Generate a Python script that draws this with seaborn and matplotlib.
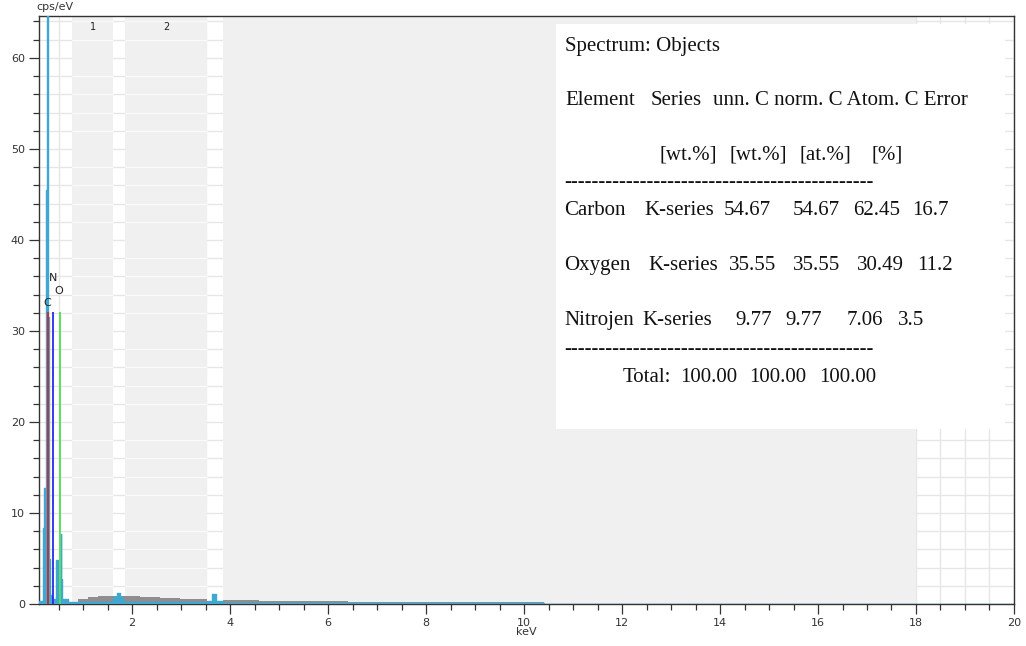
import matplotlib
matplotlib.use("Agg")
import matplotlib.pyplot as plt
import numpy as np
import seaborn as sns
from matplotlib.patches import Rectangle
from matplotlib.ticker import MultipleLocator

# ---- measured spectrum (step edges in keV, counts in cps/eV) ----
spec_kev = [0.10, 0.175, 0.19, 0.205, 0.240, 0.255, 0.292, 0.310, 0.33, 0.36,
            0.44, 0.455, 0.48, 0.52, 0.545, 0.56, 0.58, 0.64, 0.70, 1.62,
            1.70, 1.76, 1.82, 3.55, 3.64, 3.72, 3.85, 10.4, 20.0]
spec_cps = [0.3, 2.0, 8.3, 12.7, 45.5, 80.0, 31.5, 5.0, 1.0, 0.5,
            1.2, 4.8, 1.1, 3.0, 7.7, 2.7, 0.6, 0.6, 0.2, 0.8,
            1.2, 0.8, 0.2, 0.3, 1.1, 0.3, 0.1, 0.0, 0.0]

# ---- fitted background continuum ----
bg_kev = [0.10, 0.70, 0.90, 1.10, 1.30, 2.16, 2.57, 2.98, 3.52, 3.86, 4.6, 6.4, 10.4, 20.0]
bg_cps = [0.10, 0.25, 0.55, 0.75, 0.92, 0.82, 0.65, 0.50, 0.36, 0.42, 0.33, 0.22, 0.0, 0.0]

# ---- identified elements ----
element_names = ["C", "N", "O"]
element_kev = [0.277, 0.392, 0.525]
element_colors = ["#dd2222", "#2a2ae6", "#4ee04e"]
element_marker_height = 32.1
element_label_y = [33.1, 35.8, 34.4]

# ---- integration windows ----
window_names = ["1", "2", ""]
window_start = [0.78, 1.86, 3.86]
window_end = [1.61, 3.53, 18.0]

# ---- quantification table ----
table_units = ["[wt.%]", "[wt.%]", "[at.%]", "[%]"]
row_element = ["Carbon", "Oxygen", "Nitrojen"]
row_series = ["K-series", "K-series", "K-series"]
row_unn = ["54.67", "35.55", "9.77"]
row_norm = ["54.67", "35.55", "9.77"]
row_atom = ["62.45", "30.49", "7.06"]
row_error = ["16.7", "11.2", "3.5"]
total_values = ["100.00", "100.00", "100.00"]

sns.set_theme(style="white")
plt.rcParams["font.family"] = ["DejaVu Sans"]

fig = plt.figure(figsize=(10.26, 6.46), dpi=100)
ax = fig.add_axes([0.0377, 0.065, 0.9506, 0.9102])
ax.set_xlim(0.095, 20.0)
ax.set_ylim(0, 64.6)
ax.set_facecolor("white")

ax.xaxis.set_major_locator(MultipleLocator(2))
ax.xaxis.set_minor_locator(MultipleLocator(0.5))
ax.yaxis.set_major_locator(MultipleLocator(10))
ax.yaxis.set_minor_locator(MultipleLocator(2))

ax.set_axisbelow(True)
ax.grid(which="both", color="#e6e6e6", lw=1.0)

# shaded windows (drawn above the grid)
for name, a, b in zip(window_names, window_start, window_end):
    ax.axvspan(a, b, color="#f0f0f0", lw=0, zorder=0.7)
    if name:
        ax.hlines(ax.yaxis.get_minorticklocs(), a, b, color="#fafafa", lw=1.0, zorder=0.8)
        ax.text((a + b) / 2, 0.982, name, transform=ax.get_xaxis_transform(),
                ha="center", va="center", fontsize=7, color="#222222")

# background continuum
ax.fill_between(bg_kev, 0, bg_cps, step="post", color="#8e8e8e", lw=0, zorder=2)

# spectrum
cyan = "#3fa7d2"
ax.fill_between(spec_kev, 0, spec_cps, step="post", color=cyan, lw=0, zorder=3)
sns.lineplot(x=spec_kev, y=spec_cps, drawstyle="steps-post", color=cyan, lw=1.0,
             ax=ax, zorder=3.1)

# element markers
for name, e, c, ly in zip(element_names, element_kev, element_colors, element_label_y):
    ax.vlines(e, 0, element_marker_height, color=c, lw=1.3, zorder=4)
    ax.text(e - 0.012, ly, name, ha="center", va="center", fontsize=8, color="#222222", zorder=5)

# axes styling
for s in ax.spines.values():
    s.set_color("#333333")
    s.set_linewidth(1.0)
ax.tick_params(which="major", direction="out", length=7, width=0.9, color="#333333",
               labelsize=8, labelcolor="#333333", pad=3, bottom=True, left=True)
ax.tick_params(which="minor", direction="out", length=4.3, width=0.9, color="#333333",
               bottom=True, left=True)
ax.set_xticks([2, 4, 6, 8, 10, 12, 14, 16, 18, 20])
ax.set_xlabel("")
ax.set_ylabel("")
ax.text(0.0167, 1.0150, "cps/eV", transform=ax.transAxes, ha="center", va="center",
        fontsize=8, color="#333333")
ax.text(0.5, -0.048, "keV", transform=ax.transAxes, ha="center", va="center",
        fontsize=8, color="#333333")

# quantification table box
ax.add_patch(Rectangle((0.530, 0.298), 0.461, 0.688, transform=ax.transAxes,
                       facecolor="white", edgecolor="none", zorder=6))

serif = dict(family="Liberation Serif", fontsize=15, color="#111111", va="center",
             ha="left", zorder=7)

def px(x):
    return (x - 38.7) / 975.3

def py(y):
    return (604 - y) / 588

tt = ax.transAxes
ax.text(px(565), py(46), "Spectrum: Objects", transform=tt, **serif)
ax.text(px(565), py(100), "Element", transform=tt, **serif)
ax.text(px(651), py(100), "Series", transform=tt, **serif)
ax.text(px(713), py(100), "unn. C norm. C Atom. C Error", transform=tt, **serif)
for u, x in zip(table_units, [660, 730, 800, 872]):
    ax.text(px(x), py(155), u, transform=tt, **serif)
dash = "-" * 45
ax.text(px(564), py(182), dash, transform=tt, **serif)
row_y = [210, 265, 320]
col_x = [[564, 644, 724, 793, 853, 912],
         [564, 648, 729, 793, 857, 917],
         [564, 642, 735, 785, 847, 898]]
for i in range(3):
    vals = [row_element[i], row_series[i], row_unn[i], row_norm[i], row_atom[i], row_error[i]]
    for v, x in zip(vals, col_x[i]):
        ax.text(px(x), py(row_y[i]), v, transform=tt, **serif)
ax.text(px(564), py(349), dash, transform=tt, **serif)
ax.text(px(623), py(377), "Total:", transform=tt, **serif)
for v, x in zip(total_values, [680, 749, 819]):
    ax.text(px(x), py(377), v, transform=tt, **serif)

fig.savefig("out.png", dpi=100)
